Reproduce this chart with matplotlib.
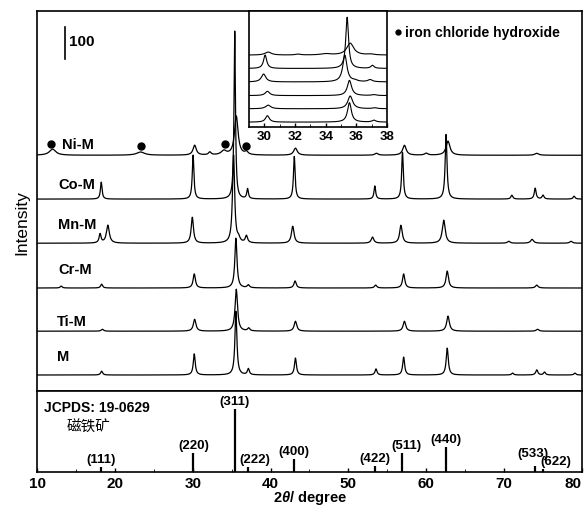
import numpy as np
import matplotlib
matplotlib.use("Agg")
import matplotlib.pyplot as plt

plt.rcParams["font.family"] = ["Liberation Sans", "Noto Sans CJK SC", "DejaVu Sans"]
plt.rcParams["mathtext.fontset"] = "custom"
plt.rcParams["mathtext.it"] = "Liberation Sans:italic:bold"
plt.rcParams["mathtext.rm"] = "Liberation Sans:bold"

# sample names (top to bottom) and baseline offsets (counts)
samples = ["Ni-M", "Co-M", "Mn-M", "Cr-M", "Ti-M", "M"]
offsets = [737, 600, 462, 322, 187, 50]

# peak tables: 2theta, height (counts), FWHM (deg)
ni_pos = [12.0, 23.3, 30.25, 32.2, 34.0, 35.6, 36.9, 43.2, 53.6, 57.2, 60.0, 62.8, 74.2]
ni_h = [19, 10, 31, 9, 13, 122, 9, 22, 6, 31, 6, 44, 6]
ni_w = [1.0, 1.2, 0.5, 0.4, 0.8, 0.55, 0.5, 0.55, 0.5, 0.55, 0.5, 0.6, 0.6]

co_pos = [18.25, 30.05, 35.4, 37.05, 43.05, 53.4, 56.95, 62.55, 71.0, 74.0, 75.0, 79.0]
co_h = [53, 138, 525, 31, 134, 41, 147, 203, 12, 34, 12, 9]
co_w = [0.25, 0.25, 0.22, 0.25, 0.25, 0.25, 0.25, 0.28, 0.3, 0.28, 0.3, 0.3]

mn_pos = [18.1, 19.1, 29.95, 35.25, 35.9, 36.9, 42.85, 53.1, 56.75, 62.25, 70.6, 73.6, 78.6]
mn_h = [28, 56, 81, 275, 12, 22, 53, 19, 56, 72, 6, 12, 6]
mn_w = [0.3, 0.45, 0.35, 0.33, 0.4, 0.35, 0.4, 0.4, 0.4, 0.45, 0.4, 0.45, 0.4]

cr_pos = [13.1, 18.3, 30.2, 35.55, 37.15, 43.15, 53.5, 57.1, 62.7, 74.2]
cr_h = [6, 12, 44, 156, 9, 22, 9, 44, 53, 9]
cr_w = [0.3, 0.3, 0.35, 0.33, 0.35, 0.35, 0.35, 0.35, 0.38, 0.4]

ti_pos = [18.4, 30.25, 35.6, 37.2, 43.2, 57.2, 62.8, 74.3]
ti_h = [6, 37, 131, 9, 31, 31, 47, 6]
ti_w = [0.35, 0.4, 0.38, 0.35, 0.4, 0.4, 0.42, 0.4]

m_pos = [18.3, 30.2, 35.55, 37.15, 43.2, 53.55, 57.1, 62.7, 71.1, 74.2, 75.2, 79.1]
m_h = [12, 66, 200, 19, 53, 19, 56, 84, 6, 16, 9, 6]
m_w = [0.3, 0.3, 0.3, 0.3, 0.3, 0.3, 0.3, 0.32, 0.3, 0.32, 0.3, 0.3]

peak_tables = [(ni_pos, ni_h, ni_w), (co_pos, co_h, co_w), (mn_pos, mn_h, mn_w),
               (cr_pos, cr_h, cr_w), (ti_pos, ti_h, ti_w), (m_pos, m_h, m_w)]

# iron chloride hydroxide markers on Ni-M
dot_x = [11.8, 23.35, 34.1, 36.8]
dot_y = [772, 766, 772, 766]

# JCPDS 19-0629 reference lines
hkl = ["(111)", "(220)", "(311)", "(222)", "(400)", "(422)", "(511)", "(440)", "(533)", "(622)"]
ref_pos = [18.27, 30.10, 35.42, 37.05, 43.05, 53.39, 56.94, 62.52, 73.95, 75.0]
ref_int = [8, 30, 100, 8, 20, 10, 30, 40, 10, 4]

two_theta = np.arange(10, 80.001, 0.02)


def pattern(pos, h, w):
    y = np.zeros_like(two_theta)
    for p, a, fw in zip(pos, h, w):
        g = fw / 2
        y += a * g**2 / ((two_theta - p) ** 2 + g**2)
    return y


traces = [pattern(*t) + off for t, off in zip(peak_tables, offsets)]

fig = plt.figure(figsize=(5.84, 5.06), dpi=100)
ax = fig.add_axes([0.0634, 0.2253, 0.933, 0.751])
axb = fig.add_axes([0.0634, 0.0652, 0.933, 0.160])

for y in traces:
    ax.plot(two_theta, y, color="black", lw=0.9)
ax.plot(dot_x, dot_y, "o", color="black", ms=5)

label_x = [13.2, 12.7, 12.7, 12.8, 12.6, 12.6]
label_y = [772, 647, 522, 381, 219, 109]
for name, lx, ly in zip(samples, label_x, label_y):
    ax.text(lx, ly, name, fontsize=10.5, fontweight="bold", va="center")

# scale bar
ax.plot([13.6, 13.6], [1037, 1137], color="black", lw=1.2)
ax.text(14.1, 1094, "100", fontsize=11, fontweight="bold", va="center")

ax.plot([0.662], [0.945], "o", color="black", ms=3.5, transform=ax.transAxes)
ax.text(0.676, 0.945, "iron chloride hydroxide", transform=ax.transAxes,
        fontsize=10, fontweight="bold", va="center")

ax.set_xlim(10, 80)
ax.set_ylim(0, 1188)
ax.set_xticks([])
ax.set_yticks([])
for s in ax.spines.values():
    s.set_linewidth(1.2)

fig.text(0.038, 0.561, "Intensity", rotation=90, fontsize=12.5,
         ha="center", va="center")

# inset: zoom on the 29-38 range, same offsets
axi = fig.add_axes([0.4264, 0.747, 0.2363, 0.229])
for y in traces:
    axi.plot(two_theta, y, color="black", lw=0.8)
axi.set_xlim(29, 38)
axi.set_ylim(0, 1188)
axi.set_yticks([])
axi.set_xticks([30, 32, 34, 36, 38])
axi.set_xticks([31, 33, 35, 37], minor=True)
axi.tick_params(axis="x", direction="in", length=3, width=1, pad=2, labelsize=9.5)
axi.tick_params(axis="x", which="minor", direction="in", length=2)
for lab in axi.get_xticklabels():
    lab.set_fontweight("bold")
for s in axi.spines.values():
    s.set_linewidth(1.2)

# bottom panel: reference sticks
axb.vlines(ref_pos, 0, ref_int, color="black", lw=1.6)
shifts = {"(222)": (5, 0), "(511)": (3, 0), "(622)": (9, 0), "(533)": (-1, 3)}
for lab, x, h in zip(hkl, ref_pos, ref_int):
    dx, dy = shifts.get(lab, (0, 0))
    axb.annotate(lab, (x, h), xytext=(dx, 1.5 + dy), textcoords="offset points",
                 ha="center", va="bottom", fontsize=9.5, fontweight="bold")
axb.text(0.012, 0.80, "JCPDS: 19-0629", transform=axb.transAxes, fontsize=10,
         fontweight="bold", va="center")
axb.text(0.055, 0.56, "磁铁矿", transform=axb.transAxes, fontsize=10.5,
         family=["Noto Sans CJK SC"], fontweight="medium", va="center")
axb.set_xlim(10, 80)
axb.set_ylim(0, 128.6)
axb.set_yticks([])
axb.set_xticks(np.arange(10, 81, 10))
axb.set_xticks(np.arange(15, 80, 5), minor=True)
axb.tick_params(axis="x", direction="in", length=3, width=1, pad=3, labelsize=11)
axb.tick_params(axis="x", which="minor", direction="in", length=2)
xlabels = axb.get_xticklabels()
for lab in xlabels:
    lab.set_fontweight("bold")
xlabels[-1].set_horizontalalignment("right")
for s in axb.spines.values():
    s.set_linewidth(1.2)

fig.text(0.53, 0.016, r"2$\mathit{\theta}$/ degree", fontsize=10.5,
         fontweight="bold", ha="center", va="center")

fig.savefig("out.png", dpi=100)
plt.close(fig)
